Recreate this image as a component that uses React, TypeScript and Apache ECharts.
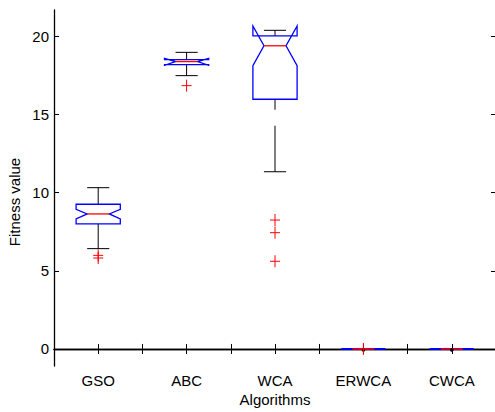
import React, { useEffect, useRef } from "react";
import * as echarts from "echarts";

const categories = ["GSO", "ABC", "WCA", "ERWCA", "CWCA"];
const positions = [1, 2, 3, 4, 5];
const whiskerLow = [6.42, 17.49, 11.34, 0, 0];
const q1 = [8.0, 18.2, 15.98, 0, 0];
const notchLow = [8.32, 18.15, 18.13, 0, 0];
const median = [8.64, 18.39, 19.4, 0, 0];
const notchHigh = [8.94, 18.6, 20.67, 0, 0];
const q3 = [9.26, 18.52, 20.04, 0, 0];
const whiskerHigh = [10.32, 18.98, 20.39, 0, 0];
const outlierX = [1, 1, 2, 3, 3, 3, 4];
const outlierY = [5.99, 5.82, 16.85, 8.25, 7.44, 5.61, 0];
const yTicks = [0, 5, 10, 15, 20];

const FONT = "Liberation Sans";
const BLUE = "#0000ff";
const RED = "#ff0000";

export default function App() {
  const ref = useRef<HTMLDivElement>(null);
  useEffect(() => {
    if (!ref.current) return;
    const chart = echarts.init(ref.current, undefined, { renderer: "svg" });
    const boxData = positions.map((p, i) => [
      p,
      whiskerLow[i],
      q1[i],
      notchLow[i],
      median[i],
      notchHigh[i],
      q3[i],
      whiskerHigh[i],
    ]);
    const outData = outlierX.map((x, i) => [x, outlierY[i]]);

    const boxRender = (params: any, api: any) => {
      const x = api.value(0);
      const wl = api.value(1);
      const lq = api.value(2);
      const nl = api.value(3);
      const md = api.value(4);
      const nh = api.value(5);
      const uq = api.value(6);
      const wh = api.value(7);
      const hw = 0.25;
      const ind = 0.125;
      const c = (a: number, b: number) => api.coord([a, b]);
      const children: any[] = [];
      const lineStyle = { stroke: "#000", lineWidth: 1, fill: "none" };
      const degenerate = wh === wl;
      if (!degenerate) {
        const top = c(x, wh);
        const topBox = c(x, uq);
        const bot = c(x, wl);
        const botBox = c(x, lq);
        children.push({
          type: "line",
          shape: { x1: top[0], y1: top[1], x2: topBox[0], y2: topBox[1] },
          style: { ...lineStyle, lineDash: [46, 16] },
        });
        children.push({
          type: "line",
          shape: { x1: bot[0], y1: bot[1], x2: botBox[0], y2: botBox[1] },
          style: { ...lineStyle, lineDash: [46, 16] },
        });
        const capL1 = c(x - 0.125, wh);
        const capR1 = c(x + 0.125, wh);
        const capL2 = c(x - 0.125, wl);
        const capR2 = c(x + 0.125, wl);
        children.push({
          type: "line",
          shape: { x1: capL1[0], y1: capL1[1], x2: capR1[0], y2: capR1[1] },
          style: lineStyle,
        });
        children.push({
          type: "line",
          shape: { x1: capL2[0], y1: capL2[1], x2: capR2[0], y2: capR2[1] },
          style: lineStyle,
        });
      }
      if (uq === lq) {
        const a = c(x - hw, uq);
        const b = c(x + hw, uq);
        children.push({
          type: "line",
          shape: { x1: a[0], y1: a[1], x2: b[0], y2: b[1] },
          style: { stroke: BLUE, lineWidth: 2 },
        });
      } else {
        const poly = [
          c(x - hw, lq),
          c(x - hw, nl),
          c(x - hw + ind, md),
          c(x - hw, nh),
          c(x - hw, uq),
          c(x + hw, uq),
          c(x + hw, nh),
          c(x + hw - ind, md),
          c(x + hw, nl),
          c(x + hw, lq),
        ];
        children.push({
          type: "polygon",
          shape: { points: poly },
          style: { stroke: BLUE, lineWidth: 1.3, fill: "none" },
        });
      }
      const m1 = c(x - hw + ind, md);
      const m2 = c(x + hw - ind, md);
      children.push({
        type: "line",
        shape: { x1: m1[0], y1: m1[1], x2: m2[0], y2: m2[1] },
        style: { stroke: degenerate ? "#c0003f" : RED, lineWidth: degenerate ? 2 : 1.3 },
      });
      if (degenerate) {
        const p = c(x, wh);
        children.push({
          type: "circle",
          shape: { cx: p[0], cy: p[1] + 1, r: 1.8 },
          style: { fill: "#000" },
        });
      }
      return { type: "group", children };
    };

    const outRender = (params: any, api: any) => {
      const p = api.coord([api.value(0), api.value(1)]);
      const s = 5;
      return {
        type: "group",
        children: [
          {
            type: "line",
            shape: { x1: p[0] - s, y1: p[1], x2: p[0] + s, y2: p[1] },
            style: { stroke: RED, lineWidth: 1 },
          },
          {
            type: "line",
            shape: { x1: p[0], y1: p[1] - 6, x2: p[0], y2: p[1] + 6 },
            style: { stroke: RED, lineWidth: 1 },
          },
        ],
      };
    };

    const axisLineStyle = { color: "#000", width: 1.3 };
    const tickStyle = { show: true, inside: true, length: 5, lineStyle: { color: "#000", width: 1 } };
    const labelStyle = { color: "#000", fontFamily: FONT, fontSize: 15 };

    chart.setOption({
      animation: false,
      backgroundColor: "#fff",
      grid: {
        left: 54,
        top: 10,
        width: 442,
        height: 356,
        containLabel: false,
        outerBoundsMode: "none",
      },
      xAxis: [
        {
          type: "value",
          min: 0.5,
          max: 5.5,
          interval: 0.5,
          position: "bottom",
          axisLine: { show: true, lineStyle: axisLineStyle },
          axisTick: tickStyle,
          splitLine: { show: false },
          axisLabel: {
            ...labelStyle,
            margin: 7,
            showMinLabel: true,
            showMaxLabel: true,
            formatter: (v: number) =>
              Number.isInteger(v) && v >= 1 && v <= categories.length ? categories[v - 1] : "",
          },
        },
        {
          type: "value",
          min: 0.5,
          max: 5.5,
          interval: 0.5,
          position: "top",
          axisLine: { show: true, lineStyle: axisLineStyle },
          axisTick: tickStyle,
          splitLine: { show: false },
          axisLabel: { show: false },
        },
      ],
      yAxis: [
        {
          type: "value",
          min: -1.09,
          max: 21.69,
          position: "left",
          axisLine: { show: true, lineStyle: axisLineStyle },
          axisTick: { ...tickStyle, customValues: yTicks },
          splitLine: { show: false },
          axisLabel: { ...labelStyle, margin: 5, customValues: yTicks },
        },
        {
          type: "value",
          min: -1.09,
          max: 21.69,
          position: "right",
          axisLine: { show: true, lineStyle: axisLineStyle },
          axisTick: { ...tickStyle, customValues: yTicks },
          splitLine: { show: false },
          axisLabel: { show: false, customValues: yTicks },
        },
      ],
      graphic: [
        {
          type: "text",
          x: 14,
          y: 202,
          rotation: Math.PI / 2,
          style: {
            text: "Fitness value",
            fill: "#000",
            font: `15px "${FONT}"`,
            align: "center",
            verticalAlign: "middle",
          },
        },
        {
          type: "text",
          x: 275,
          y: 399,
          style: {
            text: "Algorithms",
            fill: "#000",
            font: `15px "${FONT}"`,
            align: "center",
            verticalAlign: "middle",
          },
        },
      ],
      series: [
        {
          type: "custom",
          name: "boxes",
          renderItem: boxRender,
          data: boxData,
          encode: { x: 0, y: [1, 2, 3, 4, 5, 6, 7] },
          clip: false,
        },
        {
          type: "custom",
          name: "outliers",
          renderItem: outRender,
          data: outData,
          encode: { x: 0, y: 1 },
          z: 3,
        },
      ],
    });
    return () => chart.dispose();
  }, []);
  return <div ref={ref} style={{ width: 495, height: 412, position: "absolute", left: 0, top: 0 }} />;
}
